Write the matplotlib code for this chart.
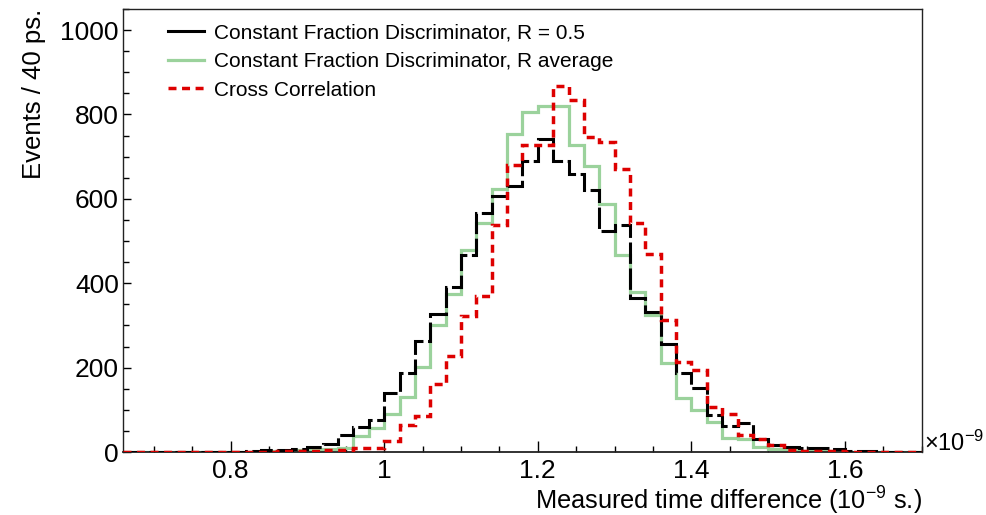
import matplotlib
matplotlib.use("Agg")
import matplotlib.pyplot as plt
from matplotlib.lines import Line2D
from matplotlib.ticker import MultipleLocator
import numpy as np

plt.rcParams['font.family'] = ['Liberation Sans', 'DejaVu Sans']
plt.rcParams['mathtext.fontset'] = 'custom'
plt.rcParams['mathtext.rm'] = 'Liberation Sans'
plt.rcParams['mathtext.it'] = 'Liberation Sans:italic'

# bin edges, 20 ps bins from 0.66 to 1.70 (x 1e-9 s)
edges = np.linspace(0.66, 1.70, 53)

cfd_05 = [0, 0, 0, 1, 0, 1, 1, 1, 2,
          5, 4, 6, 13, 20, 40, 60, 76,
          139, 188, 263, 327, 391, 466, 566, 606, 631, 690,
          742, 690, 660, 622, 525, 537, 364, 333, 255, 187,
          151, 87, 62, 68, 31, 16, 12, 9, 9, 7,
          3, 2, 1, 1, 0]

cfd_avg = [0, 0, 0, 0, 1, 0, 1, 1, 1,
           2, 2, 4, 5, 8, 10, 38, 57,
           89, 131, 202, 300, 375, 479, 542, 623, 753, 805,
           820, 820, 728, 678, 589, 466, 379, 324, 211, 129,
           99, 70, 33, 30, 13, 6, 6, 2, 2, 1,
           1, 1, 0, 0, 0]

cross_corr = [1, 1, 1, 1, 1, 1, 1, 1, 1,
              1, 2, 2, 3, 4, 4, 9, 9,
              27, 63, 86, 161, 228, 322, 369, 538, 680, 728,
              728, 868, 834, 747, 734, 671, 542, 470, 312, 213,
              194, 106, 90, 40, 31, 16, 5, 3, 2, 2,
              1, 1, 1, 1, 1]

labels = ['Constant Fraction Discriminator, R = 0.5',
          'Constant Fraction Discriminator, R average',
          'Cross Correlation']

green = '#9bd29c'
red = '#dd0000'
red_ls = (0, (2.3, 1.6))
black_ls = (0, (7, 1.5))

fig = plt.figure(figsize=(9.86, 5.15), dpi=100)
ax = fig.add_axes([0.1247, 0.1223, 0.8103, 0.8602])

ax.stairs(cfd_avg, edges, color=green, lw=2.3, zorder=2)
ax.stairs(cfd_05, edges, color='black', lw=2.2, linestyle=black_ls, zorder=3)
ax.stairs(cross_corr, edges, color=red, lw=2.5, linestyle=red_ls, zorder=4)

ax.set_xlim(0.66, 1.70)
ax.set_ylim(0, 1050)

ax.xaxis.set_major_locator(MultipleLocator(0.2))
ax.xaxis.set_minor_locator(MultipleLocator(0.05))
ax.yaxis.set_major_locator(MultipleLocator(200))
ax.yaxis.set_minor_locator(MultipleLocator(50))
ax.xaxis.set_major_formatter(lambda v, p: f'{v:g}')

ax.tick_params(which='both', direction='in', labelsize=19, colors='black')
ax.tick_params(axis='x', which='major', length=8, width=1, pad=5)
ax.tick_params(axis='x', which='minor', length=4, width=1)
ax.tick_params(axis='y', which='major', length=6, width=1, pad=3)
ax.tick_params(axis='y', which='minor', length=4, width=1)
for s in ax.spines.values():
    s.set_linewidth(1.0)
    s.set_color('#222222')
ax.spines['bottom'].set_linewidth(1.3)

ax.set_ylabel('Events / 40 ps.', fontsize=18.5, loc='top', labelpad=10)
ax.set_xlabel('Measured time difference (10$^{-9}$ s.)', fontsize=18.3, loc='right', labelpad=1)
ax.text(1.003, 0.02, r'$\times$10$^{-9}$', transform=ax.transAxes, fontsize=17,
        ha='left', va='center')

handles = [Line2D([], [], color='black', lw=2.2),
           Line2D([], [], color=green, lw=2.3),
           Line2D([], [], color=red, lw=2.5, linestyle=red_ls)]
ax.legend(handles, labels, loc='upper left', bbox_to_anchor=(0.057, 0.968),
          frameon=False, fontsize=15, handlelength=1.7, handletextpad=0.5,
          labelspacing=0.47, borderpad=0, borderaxespad=0)

fig.savefig('out.png', dpi=100)
